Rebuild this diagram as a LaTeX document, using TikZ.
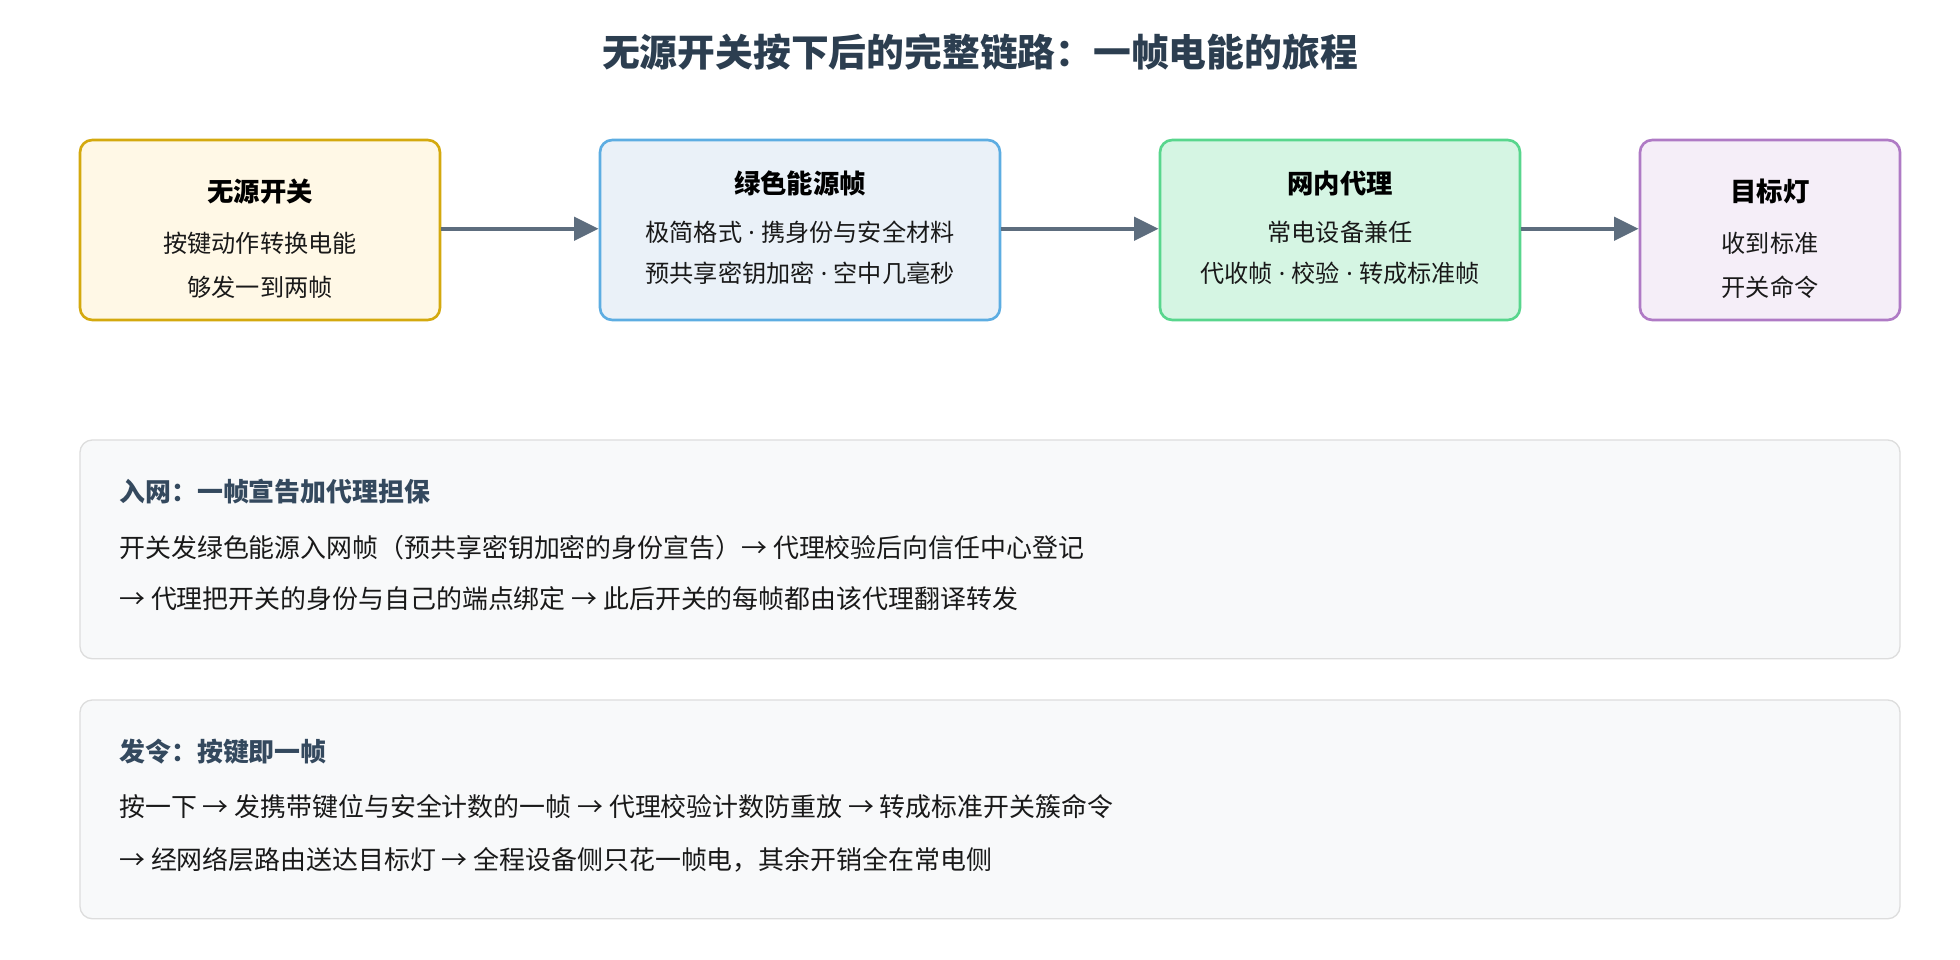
\documentclass[tikz,border=0pt]{standalone}
\usepackage{fontspec}
\setmainfont{Noto Sans CJK SC}
\newfontfamily\lat{Noto Sans}
\newcommand{\dt}{{\lat\ ·\ }}
\usetikzlibrary{arrows.meta}
\definecolor{ttl}{HTML}{2C3E50}
\definecolor{hd}{HTML}{34495E}
\definecolor{arr}{HTML}{5D6D7E}
\definecolor{c1d}{HTML}{D4A90E}\definecolor{c1f}{HTML}{FFF8E6}
\definecolor{c2d}{HTML}{5DADE2}\definecolor{c2f}{HTML}{EAF1F8}
\definecolor{c3d}{HTML}{58D68D}\definecolor{c3f}{HTML}{D5F5E3}
\definecolor{c4d}{HTML}{AF7AC5}\definecolor{c4f}{HTML}{F5EEF8}
\definecolor{pd}{HTML}{DDDDDD}\definecolor{pf}{HTML}{F8F9FA}
\tikzset{
  box/.style={draw, line width=3pt, rounded corners=14pt},
  panel/.style={draw=pd, fill=pf, line width=1.5pt, rounded corners=14pt},
  tx/.style={font=\fontsize{27.5}{32}\selectfont, text=black!90},
  bt/.style={font=\fontsize{30}{34}\selectfont\bfseries, text=black},
  ph/.style={font=\fontsize{29.5}{34}\selectfont\bfseries, text=hd, anchor=west},
  pl/.style={font=\fontsize{29.5}{34}\selectfont, text=black!90, anchor=west},
  ar/.style={draw=arr, line width=5pt, -{Triangle[length=28pt,width=26pt]}}
}
\begin{document}
\begin{tikzpicture}[x=0.05cm,y=-0.05cm]
\useasboundingbox (0,0) rectangle (1568,768);
\fill[white] (0,0) rectangle (1568,768);
\node[font=\fontsize{43}{50}\selectfont\bfseries, text=ttl] (title) at (784,42) {无源开关按下后的完整链路：一帧电能的旅程};
\draw[box, draw=c1d, fill=c1f] (64,112) rectangle (352,256);
\draw[box, draw=c2d, fill=c2f] (480,112) rectangle (800,256);
\draw[box, draw=c3d, fill=c3f] (928,112) rectangle (1216,256);
\draw[box, draw=c4d, fill=c4f] (1312,112) rectangle (1520,256);
\coordinate (e1) at (353,183); \coordinate (s2) at (479,183);
\coordinate (e2) at (801,183); \coordinate (s3) at (927,183);
\coordinate (e3) at (1217,183); \coordinate (s4) at (1311,183);
\draw[ar] (e1) -- (s2);
\draw[ar] (e2) -- (s3);
\draw[ar] (e3) -- (s4);
\node[bt] (t1) at (208,153) {无源开关};
\node[tx] (l11) at (208,195) {按键动作转换电能};
\node[tx] (l12) at (208,230) {够发一到两帧};
\node[bt] (t2) at (640,147) {绿色能源帧};
\node[tx] (l21) at (640,186) {极简格式\dt 携身份与安全材料};
\node[tx] (l22) at (640,219) {预共享密钥加密\dt 空中几毫秒};
\node[bt] (t3) at (1072,147) {网内代理};
\node[tx] (l31) at (1072,186) {常电设备兼任};
\node[tx] (l32) at (1072,219) {代收帧\dt 校验\dt 转成标准帧};
\node[bt] (t4) at (1416,153) {目标灯};
\node[tx] (l41) at (1416,195) {收到标准};
\node[tx] (l42) at (1416,230) {开关命令};
\draw[panel] (64,352) rectangle (1520,527);
\node[ph] (p1h) at (93,393) {入网：一帧宣告加代理担保};
\node[pl] (p1a) at (93,438) {开关发绿色能源入网帧（预共享密钥加密的身份宣告）→ 代理校验后向信任中心登记};
\node[pl] (p1b) at (93,479) {→ 代理把开关的身份与自己的端点绑定 → 此后开关的每帧都由该代理翻译转发};
\draw[panel] (64,560) rectangle (1520,735);
\node[ph] (p2h) at (93,601) {发令：按键即一帧};
\node[pl] (p2a) at (93,645) {按一下 → 发携带键位与安全计数的一帧 → 代理校验计数防重放 → 转成标准开关簇命令};
\node[pl] (p2b) at (93,688) {→ 经网络层路由送达目标灯 → 全程设备侧只花一帧电，其余开销全在常电侧};
\end{tikzpicture}
\end{document}
